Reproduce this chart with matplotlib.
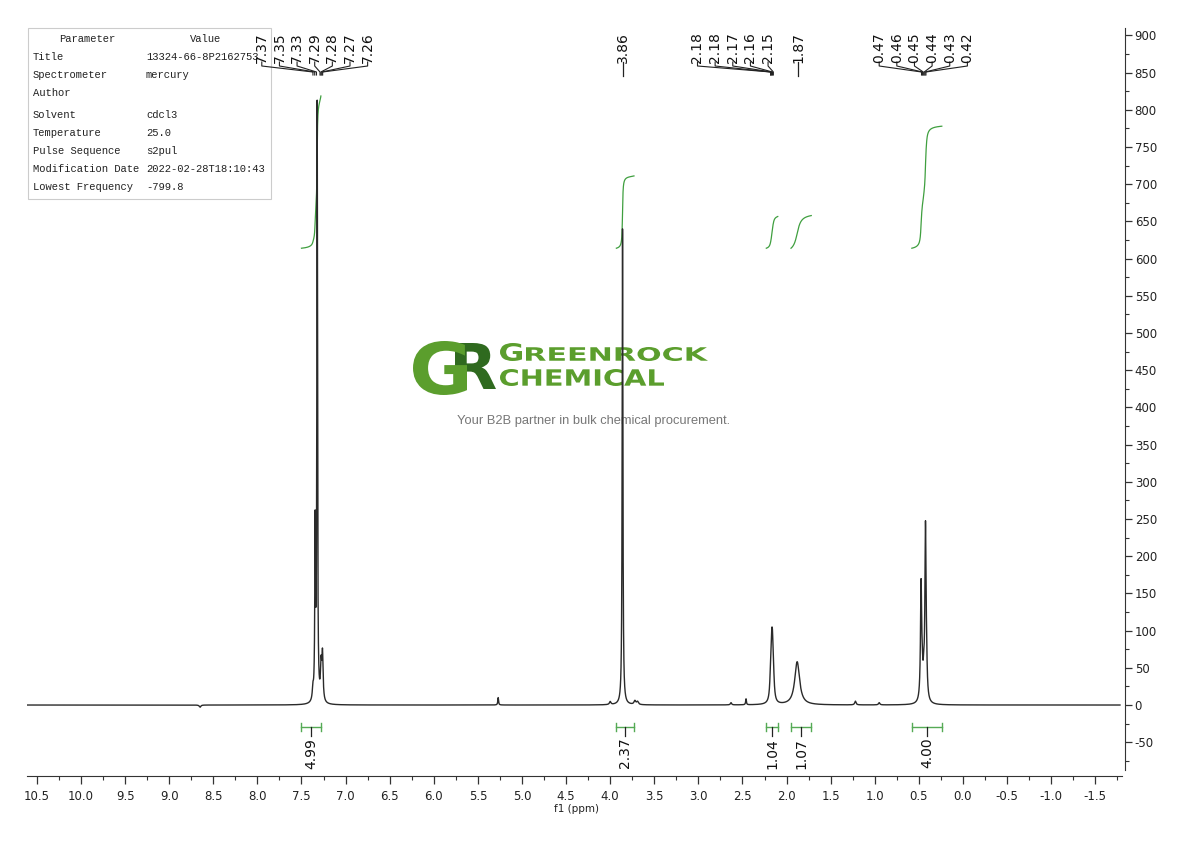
import numpy as np
import matplotlib
matplotlib.use('Agg')
import matplotlib.pyplot as plt
from matplotlib.textpath import TextPath
from matplotlib.patches import PathPatch, Rectangle
from matplotlib.font_manager import FontProperties
from matplotlib.transforms import Affine2D, blended_transform_factory

plt.rcParams['axes.unicode_minus'] = False

# ---------------- data ----------------
peak_ppm = [8.65, 7.37, 7.345, 7.322, 7.278, 7.262, 5.27, 4.00, 3.86, 3.72, 3.69,
            2.63, 2.46, 2.182, 2.170, 2.160, 2.148, 1.88, 1.22, 0.95,
            0.475, 0.462, 0.445, 0.425, 0.413]
peak_height = [-3, 15, 230, 800, 45, 62, 10, 4, 640, 5, 4,
               3, 8, 22, 58, 58, 22, 58, 5, 3,
               155, 25, 25, 230, 30]
peak_hwhm = [0.01, 0.008, 0.005, 0.0045, 0.008, 0.008, 0.005, 0.01, 0.005, 0.012, 0.012,
             0.008, 0.005, 0.01, 0.01, 0.01, 0.01, 0.033, 0.009, 0.009,
             0.008, 0.008, 0.008, 0.008, 0.008]

integral_labels = ['4.99', '2.37', '1.04', '1.07', '4.00']
integral_ranges = [(7.50, 7.28), (3.93, 3.73), (2.23, 2.10), (1.95, 1.72), (0.58, 0.24)]

peak_label_groups = [
    (['7.37', '7.35', '7.33', '7.29', '7.28', '7.27', '7.26'], 7.35),
    (['3.86'], 3.86),
    (['2.18', '2.18', '2.17', '2.16', '2.15'], 2.61),
    (['1.87'], 1.87),
    (['0.47', '0.46', '0.45', '0.44', '0.43', '0.42'], 0.45),
]

xtick_labels = ['10.5', '10.0', '9.5', '9.0', '8.5', '8.0', '7.5', '7.0', '6.5', '6.0',
                '5.5', '5.0', '4.5', '4.0', '3.5', '3.0', '2.5', '2.0', '1.5', '1.0',
                '0.5', '0.0', '-0.5', '-1.0', '-1.5']
ytick_labels = ['-50', '0', '50', '100', '150', '200', '250', '300', '350', '400', '450',
                '500', '550', '600', '650', '700', '750', '800', '850', '900']

param_names = ['Title', 'Spectrometer', 'Author', 'Solvent', 'Temperature',
               'Pulse Sequence', 'Modification Date', 'Lowest Frequency']
param_values = ['13324-66-8P2162753', 'mercury', '', 'cdcl3', '25.0',
                's2pul', '2022-02-28T18:10:43', '-799.8']

# ---------------- figure ----------------
W, H = 1190, 841
fig = plt.figure(figsize=(W / 100, H / 100), dpi=100)

ov = fig.add_axes([0, 0, 1, 1], zorder=0)
ov.set_xlim(0, W)
ov.set_ylim(H, 0)
ov.axis('off')

ax = fig.add_axes([27 / W, (H - 776) / H, (1125 - 27) / W, 748 / H], zorder=1)
ax.patch.set_alpha(0)

ppm = np.linspace(10.61, -1.78, 40000)
spec = np.zeros_like(ppm)
for p, h, w in zip(peak_ppm, peak_height, peak_hwhm):
    spec += h / (1 + ((ppm - p) / w) ** 2)
ax.plot(ppm, spec, color='#2a2a2a', lw=1.0, zorder=3)

ax.set_xlim(10.612, -1.837)
ax.set_ylim(-95.4, 910)

# integrals
green = '#3f9f3f'
for lab, (hi, lo) in zip(integral_labels, integral_ranges):
    m = (ppm <= hi) & (ppm >= lo)
    xs = ppm[m]
    cs = np.cumsum(spec[m])
    cs = (cs - cs[0]) / (cs[-1] - cs[0])
    rise = float(lab) * 41.0
    ax.plot(xs, 614 + cs * rise, color=green, lw=0.9, zorder=2)
    yb = -29.6
    ax.plot([hi, lo], [yb, yb], color='#55aa55', lw=1.0)
    ax.plot([hi, hi], [yb - 5, yb + 5], color='#55aa55', lw=1.0)
    ax.plot([lo, lo], [yb - 5, yb + 5], color='#55aa55', lw=1.0)
    c = (hi + lo) / 2
    ax.plot([c, c], [yb, -41.5], color='#222222', lw=0.9)
    ax.text(c, -44.0, lab, rotation=90, ha='center', va='top', fontsize=10,
            color='#111111', family='DejaVu Sans')

# peak labels
tr = blended_transform_factory(ax.transData, ax.transAxes)
def yf(p):
    return (776 - p) / 748.0

for labels, center in peak_label_groups:
    n = len(labels)
    for i, lab in enumerate(labels):
        lx = center + ((n - 1) / 2 - i) * 0.2
        ax.text(lx, yf(63), lab, rotation=90, ha='center', va='bottom', fontsize=10,
                color='#111111', transform=tr, family='DejaVu Sans')
        pv = float(lab)
        if n == 1:
            ax.plot([lx, lx], [yf(62), yf(76)], color='#222222', lw=0.9, transform=tr,
                    clip_on=False)
        else:
            ax.plot([lx, lx, pv, pv], [yf(62), yf(66), yf(72), yf(75)], color='#222222',
                    lw=0.8, transform=tr, clip_on=False)

# axes styling
for s in ['top', 'left']:
    ax.spines[s].set_visible(False)
ax.spines['bottom'].set_bounds(10.612, -1.80)
ax.spines['right'].set_bounds(-87, 910)
ax.spines['bottom'].set_color('#333333')
ax.spines['right'].set_color('#333333')

narrow = ['Liberation Sans Narrow', 'DejaVu Sans']
xt = [float(t) for t in xtick_labels]
ax.set_xticks(xt, xtick_labels)
ax.set_xticks([v - 0.25 for v in xt], minor=True)
yt = [float(t) for t in ytick_labels]
ax.yaxis.tick_right()
ax.set_yticks(yt, ytick_labels)
ax.set_yticks([v - 25 for v in yt], minor=True)
ax.tick_params(axis='x', which='major', length=6, width=0.9, color='#333333',
               labelsize=8.5, labelcolor='#222222', pad=4)
ax.tick_params(axis='x', which='minor', length=3, width=0.8, color='#333333')
ax.tick_params(axis='y', which='major', length=5, width=0.9, color='#333333',
               labelsize=8.5, labelcolor='#222222', pad=2)
ax.tick_params(axis='y', which='minor', length=3, width=0.8, color='#333333')
for lbl in ax.get_xticklabels() + ax.get_yticklabels():
    lbl.set_family(narrow)
ax.set_xlabel('f1 (ppm)', fontsize=7.5, family=narrow, labelpad=1, color='#222222')

# parameter table
ov.add_patch(Rectangle((28, 28), 243, 171, fill=False, edgecolor='#cccccc', lw=0.8))
mono = ['Liberation Mono', 'DejaVu Sans Mono']
ov.text(87, 39, 'Parameter', ha='center', va='center', fontsize=7.6, family=mono, color='#222222')
ov.text(206, 39, 'Value', ha='center', va='center', fontsize=7.6, family=mono, color='#222222')
row_y = [57, 75, 93, 115, 133, 151, 169, 187]
for yy, nm, vl in zip(row_y, param_names, param_values):
    ov.text(33, yy, nm, ha='left', va='center', fontsize=7.6, family=mono, color='#222222')
    ov.text(146, yy, vl, ha='left', va='center', fontsize=7.6, family=mono, color='#222222')

# logo
def path_text(s, x0, x1, ytop, ybot, color):
    tp = TextPath((0, 0), s, size=100, prop=FontProperties(family='DejaVu Sans', weight='bold'))
    bb = tp.get_extents()
    sx = (x1 - x0) / bb.width
    sy = (ybot - ytop) / bb.height
    t = Affine2D().translate(-bb.x0, -bb.y0).scale(sx, -sy).translate(x0, ybot)
    ov.add_patch(PathPatch(t.transform_path(tp), facecolor=color, edgecolor='none', lw=0))

path_text('R', 455, 496, 343, 389, '#2f6a1f')
path_text('G', 413, 467, 341, 395, '#5b9e2d')
path_text('G', 500, 522, 343, 361, '#5b9e2d')
path_text('REENROCK', 526, 708, 347, 361, '#5b9e2d')
path_text('CHEMICAL', 500, 664, 369, 386, '#5b9e2d')
ov.text(594, 421, 'Your B2B partner in bulk chemical procurement.', ha='center', va='center',
        fontsize=9.3, family=['Liberation Sans', 'DejaVu Sans'], color='#777777')

fig.savefig('out.png', dpi=100)
